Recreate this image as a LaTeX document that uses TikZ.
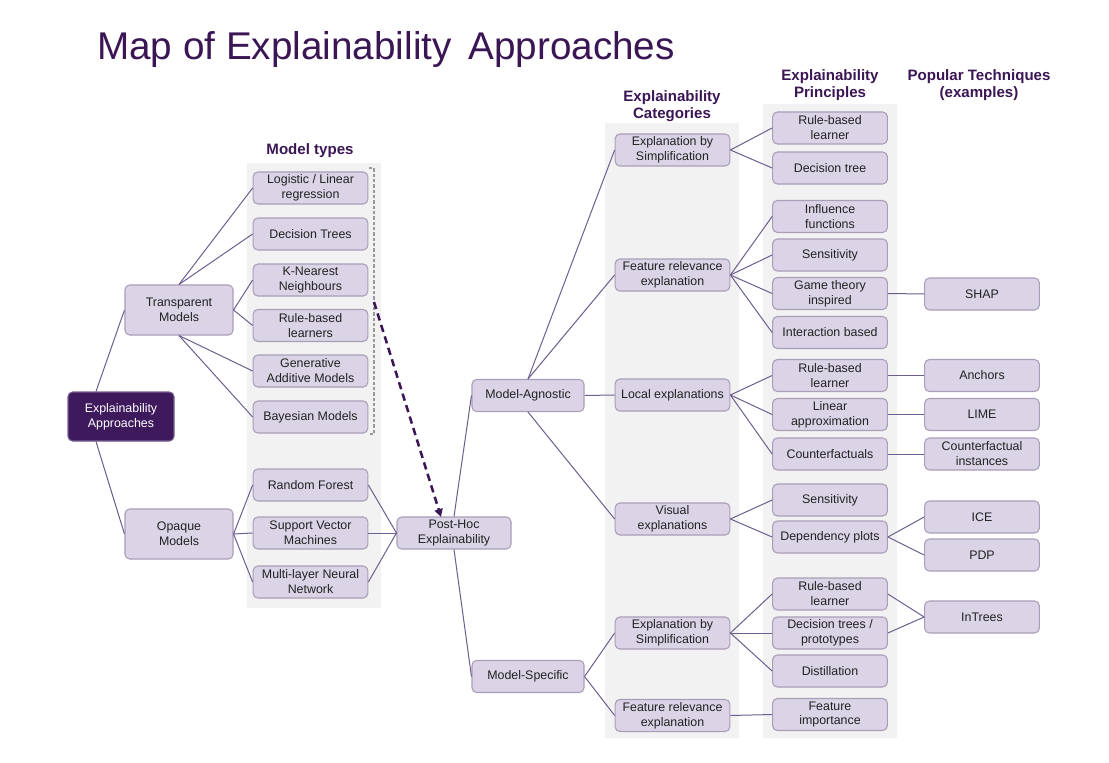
\documentclass[tikz,border=0pt]{standalone}
\usepackage{fontspec}
\setmainfont{Liberation Sans}
\usetikzlibrary{arrows.meta}
\definecolor{boxfill}{HTML}{DBD3E6}
\definecolor{boxdraw}{HTML}{A99EB8}
\definecolor{linecol}{HTML}{6E5E90}
\definecolor{panel}{HTML}{F2F2F2}
\definecolor{hdr}{HTML}{3B1654}
\definecolor{dark}{HTML}{3E1A5C}
\definecolor{txt}{HTML}{222222}
\begin{document}
\begin{tikzpicture}[x=0.75pt,y=-0.75pt,
  box/.style={draw=boxdraw, fill=boxfill, rounded corners=3.5pt, line width=0.8pt,
    minimum width=86pt, minimum height=24pt, inner sep=0pt, align=center,
    font=\fontsize{9.3}{11.2}\selectfont, text=txt},
  bigbox/.style={box, minimum width=81pt, minimum height=37.5pt},
  darkbox/.style={box, fill=dark, draw=dark!70!white, text=white, minimum width=79.5pt, minimum height=36.75pt},
  hdrtext/.style={align=center, font=\fontsize{11.3}{13}\selectfont\bfseries, text=hdr, inner sep=0pt},
  conn/.style={draw=linecol, line width=0.75pt},
  panelbg/.style={fill=panel, draw=none}]
\useasboundingbox (0,0) rectangle (1109,763);
\fill[white] (0,0) rectangle (1109,763);

% title
\node[anchor=base west, inner sep=0pt, text=hdr, font=\fontsize{29}{34}\selectfont] (title) at (97,60) {Map of Explainability\hspace{0.15em} Approaches};

% panels
\fill[panelbg] (247,163) rectangle (381,608);
\fill[panelbg] (605,123) rectangle (739,738);
\fill[panelbg] (763,104) rectangle (897,738);

% headers
\node[hdrtext] (hmt) at (310,151) {Model types};
\node[hdrtext] (hcat) at (672,106) {Explainability\\Categories};
\node[hdrtext] (hpri) at (830,85) {Explainability\\Principles};
\node[hdrtext] (htec) at (979,85) {Popular Techniques\\(examples)};

% root and level 1
\node[darkbox] (ea) at (121,416.5) {Explainability\\Approaches};
\node[bigbox] (tm) at (179,310) {Transparent\\Models};
\node[bigbox] (om) at (179,534) {Opaque\\Models};

% model types
\node[box] (lr) at (310.5,188) {Logistic / Linear\\regression};
\node[box] (dtr) at (310.5,234) {Decision Trees};
\node[box] (knn) at (310.5,280) {K-Nearest\\Neighbours};
\node[box] (rbl) at (310.5,325.5) {Rule-based\\learners};
\node[box] (gam) at (310.5,371) {Generative\\Additive Models};
\node[box] (bay) at (310.5,417) {Bayesian Models};
\node[box] (rf) at (310.5,485) {Random Forest};
\node[box] (svm) at (310.5,533) {Support Vector\\Machines};
\node[box] (mlp) at (310.5,582) {Multi-layer Neural\\Network};

% post-hoc
\node[box, minimum width=85.5pt] (ph) at (454,533) {Post-Hoc\\Explainability};
\node[box, minimum width=84pt] (mag) at (528,395.5) {Model-Agnostic};
\node[box, minimum width=84pt] (msp) at (528,676.5) {Model-Specific};

% categories
\node[box] (c1) at (672.5,150) {Explanation by\\Simplification};
\node[box] (c2) at (672.5,275) {Feature relevance\\explanation};
\node[box] (c3) at (672.5,395) {Local explanations};
\node[box] (c4) at (672.5,519) {Visual\\explanations};
\node[box] (c5) at (672.5,633) {Explanation by\\Simplification};
\node[box] (c6) at (672.5,715.5) {Feature relevance\\explanation};

% principles
\node[box] (p1) at (830,128) {Rule-based\\learner};
\node[box] (p2) at (830,168) {Decision tree};
\node[box] (p3) at (830,216.5) {Influence\\functions};
\node[box] (p4) at (830,255) {Sensitivity};
\node[box] (p5) at (830,293.5) {Game theory\\inspired};
\node[box] (p6) at (830,332.5) {Interaction based};
\node[box] (p7) at (830,375.5) {Rule-based\\learner};
\node[box] (p8) at (830,414.5) {Linear\\approximation};
\node[box] (p9) at (830,454) {Counterfactuals};
\node[box] (p10) at (830,500) {Sensitivity};
\node[box] (p11) at (830,537) {Dependency plots};
\node[box] (p12) at (830,594) {Rule-based\\learner};
\node[box] (p13) at (830,633) {Decision trees /\\prototypes};
\node[box] (p14) at (830,671) {Distillation};
\node[box] (p15) at (830,714.5) {Feature\\importance};

% techniques
\node[box] (t1) at (982,294) {SHAP};
\node[box] (t2) at (982,375.5) {Anchors};
\node[box] (t3) at (982,414.5) {LIME};
\node[box] (t4) at (982,454) {Counterfactual\\instances};
\node[box] (t5) at (982,517) {ICE};
\node[box] (t6) at (982,555) {PDP};
\node[box] (t7) at (982,617) {InTrees};

% connectors
\path[conn] ([xshift=-18.75pt]ea.north) -- (tm.west);
\path[conn] ([xshift=-18.75pt]ea.south) -- (om.west);
\path[conn] (tm.north) -- (lr.west);
\path[conn] (tm.north) -- (dtr.west);
\path[conn] (tm.east) -- (knn.west);
\path[conn] (tm.east) -- (rbl.west);
\path[conn] (tm.south) -- (gam.west);
\path[conn] (tm.south) -- (bay.west);
\path[conn] (om.east) -- (rf.west);
\path[conn] (om.east) -- (svm.west);
\path[conn] (om.east) -- (mlp.west);
\path[conn] (rf.east) -- (ph.west);
\path[conn] (svm.east) -- (ph.west);
\path[conn] (mlp.east) -- (ph.west);
\path[conn] (ph.north) -- (mag.west);
\path[conn] (ph.south) -- (msp.west);
\path[conn] (mag.north) -- (c1.west);
\path[conn] (mag.north) -- (c2.west);
\path[conn] (mag.east) -- (c3.west);
\path[conn] (mag.south) -- (c4.west);
\path[conn] (msp.east) -- (c5.west);
\path[conn] (msp.east) -- (c6.west);
\path[conn] (c1.east) -- (p1.west);
\path[conn] (c1.east) -- (p2.west);
\path[conn] (c2.east) -- (p3.west);
\path[conn] (c2.east) -- (p4.west);
\path[conn] (c2.east) -- (p5.west);
\path[conn] (c2.east) -- (p6.west);
\path[conn] (c3.east) -- (p7.west);
\path[conn] (c3.east) -- (p8.west);
\path[conn] (c3.east) -- (p9.west);
\path[conn] (c4.east) -- (p10.west);
\path[conn] (c4.east) -- (p11.west);
\path[conn] (c5.east) -- (p12.west);
\path[conn] (c5.east) -- (p13.west);
\path[conn] (c5.east) -- (p14.west);
\path[conn] (c6.east) -- (p15.west);
\path[conn] (p5.east) -- (t1.west);
\path[conn] (p7.east) -- (t2.west);
\path[conn] (p8.east) -- (t3.west);
\path[conn] (p9.east) -- (t4.west);
\path[conn] (p11.east) -- (t5.west);
\path[conn] (p11.east) -- (t6.west);
\path[conn] (p12.east) -- (t7.west);
\path[conn] (p13.east) -- (t7.west);

% dashed bracket
\coordinate (brt) at (369,168);
\coordinate (brb) at (369,434);
\draw[draw=gray!80, line width=0.8pt, dash pattern=on 2.5pt off 1.5pt] (brt) -- ++(5,0) -- ++(0,266) -- (brb);

% dashed arrow
\coordinate (arrs) at (374,302);
\coordinate (arre) at (441,517);
\draw[draw=hdr, line width=1.9pt, dash pattern=on 5.5pt off 3.5pt, -{Triangle[length=6pt,width=6pt]}] (arrs) -- (arre);
\end{tikzpicture}
\end{document}
